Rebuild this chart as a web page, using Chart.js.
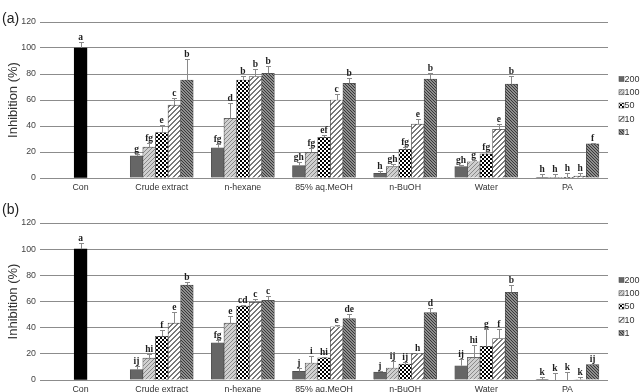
<!DOCTYPE html>
<html><head><meta charset="utf-8">
<script src="https://cdn.jsdelivr.net/npm/chart.js@4.4.0/dist/chart.umd.min.js"></script>
<style>
html,body{margin:0;padding:0;background:#fff;width:643px;height:392px;overflow:hidden}
canvas{position:absolute;left:0}
#ca{top:0}
#cb{top:201px}
</style></head><body>
<canvas id="ca" width="643" height="200"></canvas>
<canvas id="cb" width="643" height="191"></canvas>
<script>
const categories = ['Con','Crude extract','n-hexane','85% aq.MeOH','n-BuOH','Water','PA'];
const concLabels = ['200','100','50','10','1'];
const yMax = 120, yStep = 20;

// Panel (a)
const conA = 100, conErrA = 4.6, conLetA = 'a';
const a200 = [17.0, 23.3, 9.5, 3.6, 8.7, 0.2];
const a100 = [23.8, 45.9, 19.7, 8.7, 12.5, 0.3];
const a50  = [35.0, 75.4, 31.3, 22.0, 18.5, 0.5];
const a10  = [56.0, 78.0, 60.0, 41.5, 37.4, 1.5];
const a1   = [75.4, 80.5, 72.8, 76.0, 72.3, 26.2];
const a200Err = [1.5, 3.0, 2.5, 2.0, 1.5, 3.0];
const a100Err = [3.0, 12.0, 3.0, 2.0, 1.7, 3.0];
const a50Err  = [5.5, 3.0, 2.0, 2.0, 1.5, 3.0];
const a10Err  = [5.5, 6.0, 5.0, 4.0, 4.0, 2.0];
const a1Err   = [16.0, 5.5, 4.0, 4.5, 6.0, 1.0];
const a200Let = ['g','fg','gh','h','gh','h'];
const a100Let = ['fg','d','fg','gh','g','h'];
const a50Let  = ['e','b','ef','fg','fg','h'];
const a10Let  = ['c','b','c','e','e','h'];
const a1Let   = ['b','b','b','b','b','f'];

// Panel (b)
const conB = 100, conErrB = 4.6, conLetB = 'a';
const b200 = [7.9, 28.5, 6.6, 6.1, 10.9, 0.3];
const b100 = [16.8, 43.5, 13.0, 9.2, 17.3, 0.0];
const b50  = [33.4, 56.5, 17.0, 12.2, 25.7, 0.0];
const b10  = [43.5, 59.3, 40.7, 20.1, 31.6, 0.4];
const b1   = [72.6, 60.9, 46.9, 51.5, 67.0, 11.7];
const b200Err = [3.0, 2.0, 2.6, 0.5, 5.4, 2.0];
const b100Err = [3.0, 5.5, 5.5, 5.5, 9.5, 5.0];
const b50Err  = [5.0, 1.0, 0.5, 1.5, 13.5, 6.0];
const b10Err  = [8.5, 2.5, 1.0, 0.5, 7.6, 2.0];
const b1Err   = [2.5, 3.5, 3.5, 3.5, 5.3, 0.5];
const b200Let = ['ij','fg','j','j','ij','k'];
const b100Let = ['hi','e','i','ij','hi','k'];
const b50Let  = ['f','cd','hi','ij','g','k'];
const b10Let  = ['e','c','e','h','f','k'];
const b1Let   = ['b','c','de','d','b','ij'];

function makePatterns(ctx){
  function pat(size, draw){
    const c=document.createElement('canvas'); c.width=c.height=size;
    const g=c.getContext('2d'); draw(g,size); return ctx.createPattern(c,'repeat');
  }
  return [
    '#666666',
    pat(4,(g,s)=>{g.fillStyle='#d0d0d0';g.fillRect(0,0,s,s);g.fillStyle='#8a8a8a';for(let i=0;i<s;i++)g.fillRect(i,s-1-i,1,1);}),
    pat(4,(g,s)=>{g.fillStyle='#fff';g.fillRect(0,0,s,s);g.fillStyle='#000';g.fillRect(0,0,2,2);g.fillRect(2,2,2,2);}),
    pat(5,(g,s)=>{g.fillStyle='#fff';g.fillRect(0,0,s,s);g.fillStyle='#7a7a7a';for(let i=0;i<s;i++){g.fillRect(i,s-1-i,1,1);g.fillRect((i+1)%s,s-1-i,1,1);}}),
    pat(3,(g,s)=>{g.fillStyle='#8e8e8e';g.fillRect(0,0,s,s);g.fillStyle='#383838';for(let i=0;i<s;i++)g.fillRect(i,i,1,1);})
  ];
}

const annot = {
  id:'annot',
  afterDatasetsDraw(chart){
    const ctx=chart.ctx, ys=chart.scales.y;
    chart.data.datasets.forEach((ds,i)=>{
      const meta=chart.getDatasetMeta(i);
      ds.data.forEach((v,j)=>{
        if(v===null||v===undefined) return;
        const el=meta.data[j];
        const e=ds.errs[j]||0;
        const x=Math.round(el.x)+0.5;
        const yb=el.y, yt=Math.round(ys.getPixelForValue(v+e))+0.5;
        ctx.save();
        ctx.strokeStyle='#8a8a8a'; ctx.lineWidth=1;
        ctx.beginPath(); ctx.moveTo(x,yb); ctx.lineTo(x,yt);
        ctx.moveTo(x-2.5,yt); ctx.lineTo(x+2.5,yt); ctx.stroke();
        ctx.fillStyle='#1e1e1e'; ctx.font='bold 9.5px "Liberation Serif", "Times New Roman", serif';
        ctx.textAlign='center'; ctx.textBaseline='alphabetic';
        ctx.fillText(ds.lets[j], el.x, yt-3);
        ctx.restore();
      });
    });
  },
  afterDraw(chart){
    const o=chart.options.plugins.annot, ctx=chart.ctx;
    ctx.save();
    ctx.fillStyle='#222'; ctx.font='14px "Liberation Sans", Arial, sans-serif';
    ctx.textAlign='left'; ctx.textBaseline='middle';
    ctx.fillText(o.label, 2, o.labelY);
    ctx.font='9px "Liberation Sans", Arial, sans-serif';
    for(let k=0;k<concLabels.length;k++){
      const ds=chart.data.datasets[k+1];
      const cy=79+13.25*k;
      ctx.fillStyle=ds.backgroundColor;
      ctx.fillRect(619,cy-2.5,5,5);
      ctx.strokeStyle='#555'; ctx.lineWidth=0.6; ctx.strokeRect(619,cy-2.5,5,5);
      ctx.fillStyle='#333'; ctx.fillText(concLabels[k], 624.5, cy+0.5);
    }
    ctx.restore();
  }
};

function build(id, label, labelY, xHeight, con, conErr, conLet, series, errs, lets){
  const canvas=document.getElementById(id);
  const ctx=canvas.getContext('2d');
  const pats=makePatterns(ctx);
  const datasets=[{
    label:'Con',
    data:[con,null,null,null,null,null,null],
    errs:[conErr], lets:[conLet],
    backgroundColor:'#000', borderColor:'#000', borderWidth:0,
    grouped:false, barThickness:12.6, maxBarThickness:12.6
  }];
  series.forEach((s,k)=>{
    datasets.push({
      label:concLabels[k],
      data:[null].concat(s),
      errs:[0].concat(errs[k]), lets:[''].concat(lets[k]),
      backgroundColor:pats[k], borderColor:'#4a4a4a', borderWidth:0.7,
      barThickness:12.6
    });
  });
  return new Chart(ctx,{
    type:'bar',
    data:{labels:categories, datasets},
    options:{
      responsive:false, animation:false, devicePixelRatio:1,
      layout:{padding:{left:0,right:35,top:22,bottom:0}},
      plugins:{legend:{display:false}, tooltip:{enabled:false}, annot:{label, labelY}},
      scales:{
        x:{
          grid:{display:false, drawTicks:false}, border:{display:false},
          ticks:{padding:4, color:'#333', font:{family:'"Liberation Sans", Arial, sans-serif', size:8.8}, maxRotation:0, autoSkip:false},
          afterFit(s){ s.height=xHeight; }
        },
        y:{
          min:0, max:yMax,
          grid:{color:'#8c8c8c', lineWidth:1, drawTicks:false}, border:{display:false},
          ticks:{stepSize:yStep, padding:4, color:'#444', font:{family:'"Liberation Sans", Arial, sans-serif', size:8.8}},
          title:{display:true, text:'Inhibition (%)', color:'#333', padding:{top:6,bottom:0}, font:{family:'"Liberation Sans", Arial, sans-serif', size:13}},
          afterFit(s){ s.width=40; }
        }
      }
    },
    plugins:[annot]
  });
}

build('ca','(a)',19,22,conA,conErrA,conLetA,[a200,a100,a50,a10,a1],[a200Err,a100Err,a50Err,a10Err,a1Err],[a200Let,a100Let,a50Let,a10Let,a1Let]);
build('cb','(b)',9,12,conB,conErrB,conLetB,[b200,b100,b50,b10,b1],[b200Err,b100Err,b50Err,b10Err,b1Err],[b200Let,b100Let,b50Let,b10Let,b1Let]);
</script>
</body></html>
